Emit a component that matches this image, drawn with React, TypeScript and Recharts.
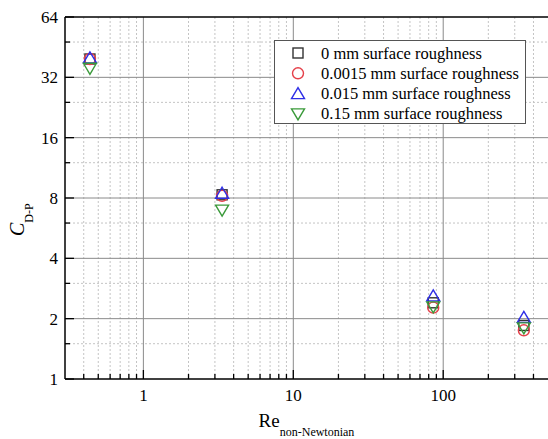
import { Legend, ReferenceLine, Scatter, ScatterChart, XAxis, YAxis } from 'recharts'

// Re (non-Newtonian) of the four cases
const RE = [0.44, 3.35, 85.8, 345]

// C_D-P for each surface roughness
const CD_0MM = [39.5, 8.3, 2.4, 1.85]
const CD_00015MM = [39.5, 8.2, 2.27, 1.75]
const CD_0015MM = [40, 8.45, 2.6, 2.03]
const CD_015MM = [35.5, 6.96, 2.29, 1.8]

const SERIES_NAMES = [
  '0 mm surface roughness',
  '0.0015 mm surface roughness',
  '0.015 mm surface roughness',
  '0.15 mm surface roughness',
]

const X_MAJOR = [1, 10, 100]
const X_MINOR = [0.4, 0.5, 0.6, 0.7, 0.8, 0.9, 2, 3, 4, 5, 6, 7, 8, 9, 20, 30, 40, 50, 60, 70, 80, 90, 200, 300, 400]
const Y_MAJOR = [1, 2, 4, 8, 16, 32, 64]
const Y_MINOR = [1.5, 3, 6, 12, 24, 48]

const FONT = 'Liberation Serif, Tinos, Times New Roman, DejaVu Serif, serif'

type Kind = 'square' | 'circle' | 'up' | 'down'

const series: { name: string; values: number[]; color: string; kind: Kind }[] = [
  { name: SERIES_NAMES[0], values: CD_0MM, color: '#333333', kind: 'square' },
  { name: SERIES_NAMES[1], values: CD_00015MM, color: '#e5404a', kind: 'circle' },
  { name: SERIES_NAMES[2], values: CD_0015MM, color: '#2e2ee6', kind: 'up' },
  { name: SERIES_NAMES[3], values: CD_015MM, color: '#3a9a3a', kind: 'down' },
]

function Marker({ kind, cx, cy, color }: { kind: Kind; cx: number; cy: number; color: string }) {
  const common = { fill: 'none', stroke: color, strokeWidth: 1.4 }
  if (kind === 'square') return <rect x={cx - 5} y={cy - 5} width={10} height={10} {...common} />
  if (kind === 'circle') return <circle cx={cx} cy={cy} r={5.5} {...common} />
  if (kind === 'up')
    return <polygon points={`${cx},${cy - 6} ${cx + 6.5},${cy + 5} ${cx - 6.5},${cy + 5}`} {...common} />
  return <polygon points={`${cx},${cy + 6} ${cx + 6.5},${cy - 5} ${cx - 6.5},${cy - 5}`} {...common} />
}

function XTick(props: any) {
  const { x, y, payload } = props
  const major = X_MAJOR.includes(payload.value)
  return (
    <g>
      <line x1={x} x2={x} y1={y} y2={y - (major ? 9 : 5)} stroke="#000" strokeWidth={1.3} />
      {major && (
        <text x={x} y={y + 22} textAnchor="middle" style={{ fontSize: 17, fontFamily: FONT }} fill="#000">
          {payload.value}
        </text>
      )}
    </g>
  )
}

function YTick(props: any) {
  const { x, y, payload } = props
  const major = Y_MAJOR.includes(payload.value)
  return (
    <g>
      <line x1={x} x2={x + (major ? 9 : 5)} y1={y} y2={y} stroke="#000" strokeWidth={1.3} />
      {major && (
        <text x={x - 7} y={y + 6} textAnchor="end" style={{ fontSize: 17, fontFamily: FONT }} fill="#000">
          {payload.value}
        </text>
      )}
    </g>
  )
}

function LegendBox() {
  return (
    <svg width={252} height={84} style={{ display: 'block' }}>
      <rect x={0.5} y={0.5} width={251} height={83} fill="#fff" stroke="#555" strokeWidth={1} />
      {series.map((s, i) => {
        const cy = 13 + i * 20.3
        return (
          <g key={s.name}>
            <Marker kind={s.kind} cx={24} cy={cy} color={s.color} />
            <text x={47} y={cy + 5.5} style={{ fontSize: 16.5, fontFamily: FONT }} fill="#000">
              {s.name}
            </text>
          </g>
        )
      })}
    </svg>
  )
}

function XLabel(props: any) {
  const { x, y, width } = props.viewBox
  return (
    <text x={x + width / 2} y={y + 48} textAnchor="middle" style={{ fontFamily: FONT }} fill="#000">
      <tspan style={{ fontSize: 19 }}>Re</tspan>
      <tspan style={{ fontSize: 12 }} dy={9}>
        non-Newtonian
      </tspan>
    </text>
  )
}

function YLabel() {
  return (
    <text transform="translate(24, 236) rotate(-90)" style={{ fontFamily: FONT }} fill="#000">
      <tspan style={{ fontSize: 20, fontStyle: 'italic' }}>C</tspan>
      <tspan style={{ fontSize: 12 }} dy={9}>
        D-P
      </tspan>
    </text>
  )
}

export default function App() {
  return (
    <div
      style={{ position: 'absolute', left: 0, top: 0, width: 548, height: 439, background: '#fff', fontFamily: FONT }}
    >
      <ScatterChart width={548} height={439} margin={{ top: 17, right: 0, bottom: 0, left: 0 }}>
        <XAxis
          type="number"
          dataKey="re"
          scale="log"
          domain={[0.3, 500]}
          allowDataOverflow
          ticks={[...X_MINOR, ...X_MAJOR].sort((a, b) => a - b)}
          interval={0}
          tickSize={0}
          tickMargin={0}
          tickLine={false}
          tick={<XTick />}
          height={60}
          axisLine={{ stroke: '#000', strokeWidth: 1.5 }}
          label={{ content: <XLabel /> }}
        />
        <YAxis
          type="number"
          dataKey="cd"
          scale="log"
          domain={[1, 64]}
          allowDataOverflow
          ticks={[...Y_MINOR, ...Y_MAJOR].sort((a, b) => a - b)}
          interval={0}
          tickSize={0}
          tickMargin={0}
          tickLine={false}
          tick={<YTick />}
          width={65}
          axisLine={{ stroke: '#000', strokeWidth: 1.5 }}
          label={{ content: <YLabel /> }}
        />
        {X_MINOR.map((v) => (
          <ReferenceLine key={`xm${v}`} x={v} stroke="#c4c4c4" strokeDasharray="2 2" />
        ))}
        {Y_MINOR.map((v) => (
          <ReferenceLine key={`ym${v}`} y={v} stroke="#c4c4c4" strokeDasharray="2 2" />
        ))}
        {X_MAJOR.map((v) => (
          <ReferenceLine key={`xM${v}`} x={v} stroke="#8a8a8a" />
        ))}
        {Y_MAJOR.filter((v) => v > 1 && v < 64).map((v) => (
          <ReferenceLine key={`yM${v}`} y={v} stroke="#8a8a8a" />
        ))}
        <ReferenceLine y={64} stroke="#000" strokeWidth={1.5} />
        {series.map((s) => (
          <Scatter
            key={s.name}
            name={s.name}
            data={RE.map((re, i) => ({ re, cd: s.values[i] }))}
            isAnimationActive={false}
            shape={(p: any) => <Marker kind={s.kind} cx={p.cx} cy={p.cy} color={s.color} />}
          />
        ))}
        <Legend
          layout="vertical"
          verticalAlign="middle"
          align="center"
          wrapperStyle={{ position: 'absolute', left: 274, top: 40, width: 252, height: 84 }}
          content={() => <LegendBox />}
        />
      </ScatterChart>
    </div>
  )
}
